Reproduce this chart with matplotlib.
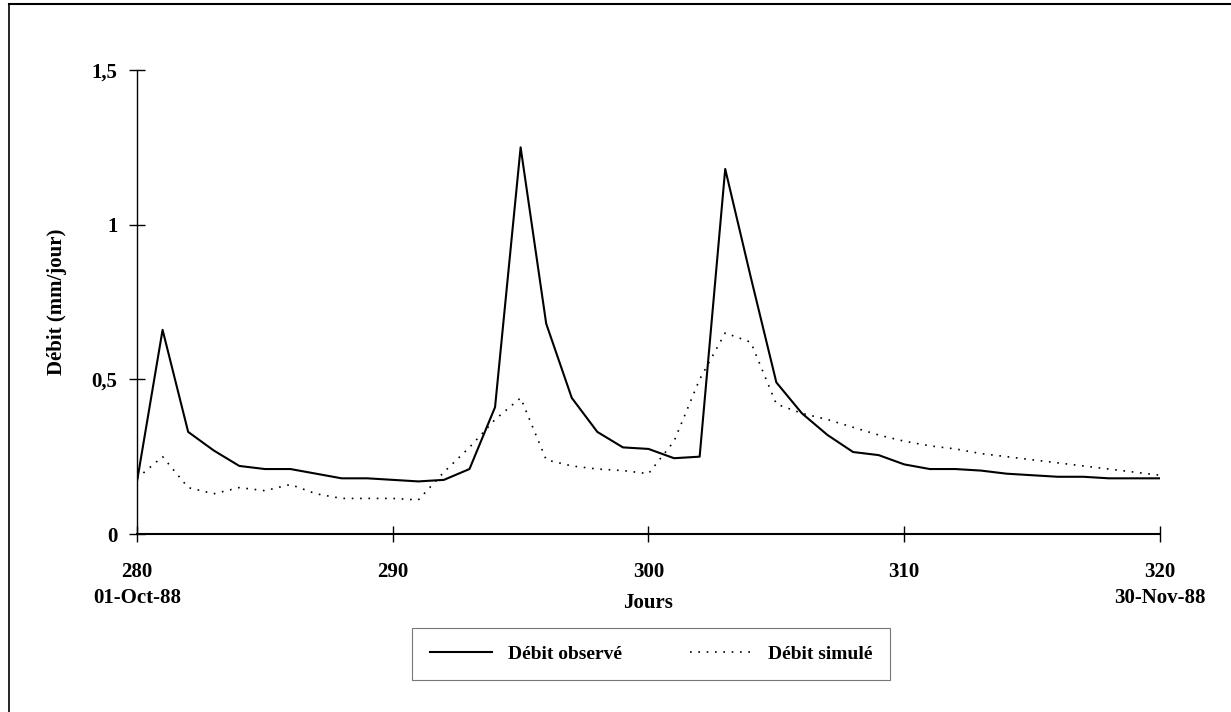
import matplotlib
matplotlib.use("Agg")
import matplotlib.pyplot as plt
from matplotlib.lines import Line2D

# jours julien 280 -> 320
jours = list(range(280, 321))
debit_observe = [0.17, 0.66, 0.33, 0.27, 0.22, 0.21, 0.21, 0.195, 0.18, 0.18,
                 0.175, 0.17, 0.175, 0.21, 0.41, 1.25, 0.68, 0.44, 0.33, 0.28,
                 0.275, 0.245, 0.25, 1.18, 0.83, 0.49, 0.39, 0.32, 0.265, 0.255,
                 0.225, 0.21, 0.21, 0.205, 0.195, 0.19, 0.185, 0.185, 0.18, 0.18,
                 0.18]
debit_simule = [0.18, 0.25, 0.15, 0.13, 0.15, 0.14, 0.16, 0.13, 0.115, 0.115,
                0.115, 0.11, 0.2, 0.28, 0.37, 0.44, 0.24, 0.22, 0.21, 0.205,
                0.195, 0.30, 0.50, 0.65, 0.62, 0.42, 0.39, 0.37, 0.345, 0.32,
                0.30, 0.285, 0.275, 0.26, 0.25, 0.24, 0.23, 0.22, 0.21, 0.20,
                0.19]
xticks = [280, 290, 300, 310, 320]
yticks = [0, 0.5, 1, 1.5]
ytick_labels = ["0", "0,5", "1", "1,5"]

plt.rcParams['font.family'] = ['Liberation Serif', 'DejaVu Serif']
plt.rcParams['font.weight'] = 'bold'

fig = plt.figure(figsize=(12.31, 7.12), dpi=100)
ax = fig.add_axes([0.1113, 0.25, 0.831, 0.6517])

ax.plot(jours, debit_observe, color='black', lw=1.5, label='Débit observé')
ax.plot(jours, debit_simule, color='black', lw=1.2, ls=(0, (1, 4)),
        label='Débit simulé')

ax.set_xlim(280, 320)
ax.set_ylim(0, 1.5)
ax.set_xticks(xticks)
ax.set_yticks(yticks)
ax.set_yticklabels(ytick_labels)
ax.tick_params(direction='inout', length=12, width=1, labelsize=15, pad=14)
ax.tick_params(axis='y', pad=8)
for s in ['top', 'right']:
    ax.spines[s].set_visible(False)
ax.spines['left'].set_linewidth(1)
ax.spines['bottom'].set_linewidth(1.5)

ax.set_ylabel('Débit (mm/jour)', fontsize=15, fontweight='bold', labelpad=18)
ax.set_xlabel('Jours', fontsize=15, fontweight='bold', labelpad=8)

# dates sous les extremites
fig.text(137 / 1231, 1 - 598 / 712, '01-Oct-88', ha='center', va='center',
         fontsize=15, fontweight='bold')
fig.text(1160 / 1231, 1 - 598 / 712, '30-Nov-88', ha='center', va='center',
         fontsize=15, fontweight='bold')

leg = fig.legend(loc='center', bbox_to_anchor=(651 / 1231, 1 - 654 / 712),
                 ncol=2, fontsize=14, frameon=True, fancybox=False,
                 handlelength=3.2, columnspacing=3.5, borderpad=0.9)
leg.get_frame().set_edgecolor('#555555')
leg.get_frame().set_linewidth(0.8)

# cadre (haut et gauche seulement, comme sur le scan)
fig.add_artist(Line2D([9 / 1231, 9 / 1231], [0, 1 - 4 / 712],
                      transform=fig.transFigure, color='black', lw=1.2))
fig.add_artist(Line2D([9 / 1231, 1], [1 - 4 / 712, 1 - 4 / 712],
                      transform=fig.transFigure, color='black', lw=1.5))

fig.savefig('out.png', dpi=100)
